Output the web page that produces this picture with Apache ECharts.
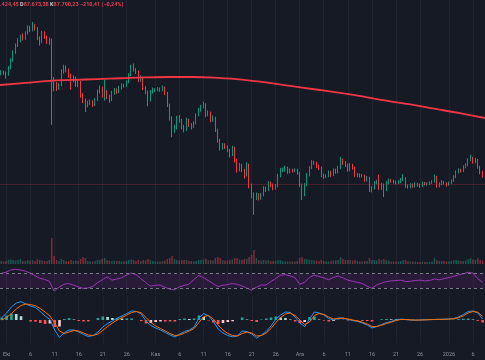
<!DOCTYPE html>
<html><head><meta charset="utf-8">
<script src="https://cdn.jsdelivr.net/npm/echarts@6/dist/echarts.min.js"></script>
<style>html,body{margin:0;padding:0;background:#161a25;}#c{width:485px;height:360px;}</style>
</head><body><div id="c"></div>
<script>
// ---- time axis ----
const tickDays = [0,5,10,15,20,25,31,36,41,46,51,56,61,66,71,76,81,86,92,97]; // days since 1 Oct 2025
const tickLabels = ["Eki","6","11","16","21","26","Kas","6","11","16","21","26","Ara","6","11","16","21","26","2026","6"];
const candleStartDay = -1;   // 30 Sep 00:00
const candleStepDays = 0.5;  // 12h candles
const dailyStartDay = -1;    // daily indicator samples start 30 Sep

// ---- price candles (USD) ----
const candleOpen = [
114000,114400,114100,113800,115300,117200,119100,120800,121900,122900,
122400,123600,125000,124300,125300,124800,122400,121500,123600,122700,
121500,121900,112500,111300,110600,111300,114400,115600,114900,113700,
112500,113000,111300,112000,108900,107800,106600,107100,107300,106600,
107800,109700,110600,108900,109700,108500,107800,109400,110100,109700,
110600,111300,111100,112000,113700,115600,114900,114400,112500,113000,
110600,109700,107800,109700,110100,110100,110300,110100,110600,109400,
106600,103500,100700,101100,103500,103000,101400,100700,103000,101900,
101400,102300,104200,105400,106100,106800,104200,104700,103000,103500,
100700,98300,96400,97100,96700,95900,94800,96400,93600,91200,
92400,91200,90000,92400,87700,85300,84600,85300,84600,85300,
86900,86500,88100,87700,86900,87400,89800,91200,91200,91700,
90700,91200,91000,91200,90500,87700,85300,87700,90000,91700,
92900,92900,92200,91700,90000,89600,89800,90700,90000,91200,
90700,91700,93600,92900,92400,91200,92400,91700,90000,90000,
89800,89800,88800,89300,86500,86900,88100,88400,86900,87700,
86500,88100,88800,88600,88400,88100,88400,88800,89300,87400,
87200,87700,87400,87900,87700,87400,88100,87900,87900,88100,
88400,89600,87400,87900,88400,88100,87700,88100,88600,89600,
90700,91200,91000,91900,92400,93600,94000,93100,93600,91900,
90700];
const candleClose = [
114400,114100,113800,115300,117200,119100,120800,121900,122900,122400,
123600,125000,124300,125300,124800,122400,121500,123600,122700,121500,
121900,112500,111300,110600,111300,114400,115600,114900,113700,112500,
113000,111300,112000,108900,107800,106600,107100,107300,106600,107800,
109700,110600,108900,109700,108500,107800,109400,110100,109700,110600,
111300,111100,112000,113700,115600,114900,114400,112500,113000,110600,
109700,107800,109700,110100,110100,110300,110100,110600,109400,106600,
103500,100700,101100,103500,103000,101400,100700,103000,101900,101400,
102300,104200,105400,106100,106800,104200,104700,103000,103500,100700,
98300,96400,97100,96700,95900,94800,96400,93600,91200,92400,
91200,90000,92400,87700,85300,84600,85300,84600,85300,86900,
86500,88100,87700,86900,87400,89800,91200,91200,91700,90700,
91200,91000,91200,90500,87700,85300,87700,90000,91700,92900,
92900,92200,91700,90000,89600,89800,90700,90000,91200,90700,
91700,93600,92900,92400,91200,92400,91700,90000,90000,89800,
89800,88800,89300,86500,86900,88100,88400,86900,87700,86500,
88100,88800,88600,88400,88100,88400,88800,89300,87400,87200,
87700,87400,87900,87700,87400,88100,87900,87900,88100,88400,
89600,87400,87900,88400,88100,87700,88100,88600,89600,90700,
91200,91000,91900,92400,93600,94000,93100,93600,91900,90700,
89800];
const candleHigh = [
114800,114700,114500,115800,117600,119500,121100,122400,123200,123500,
124000,125400,125300,126200,125700,125000,122800,124100,124000,123000,
122500,122300,113200,112000,111800,115000,116100,115900,115200,114000,
113600,113300,112500,112300,109400,108100,107600,107900,107700,108200,
110200,111200,110900,112500,110100,109000,109900,110600,110500,111100,
111700,111600,112400,114100,116100,116400,115300,114700,113600,113300,
111000,110000,110100,110700,110500,110800,110700,111200,110900,109700,
106900,103900,101900,104000,104200,103300,101900,103600,103300,102300,
102700,104600,105900,106600,107400,107000,105300,105000,104100,103800,
101000,98600,97600,97500,97000,96200,96900,96700,93900,92900,
92700,91500,93000,92700,88000,85900,85900,85700,85800,87400,
87300,88600,88500,88000,87900,90300,91700,91800,92200,92000,
91600,91500,91600,91500,90800,88000,88100,90500,92100,93500,
93400,93200,92500,92000,90400,90200,91100,91000,91600,91500,
92200,94300,93900,93300,92700,92900,92700,92000,90500,90400,
90300,90100,89800,89600,87400,88600,88900,90100,88200,88000,
88600,89200,89100,88900,88700,88800,89300,90200,89500,87800,
88100,88000,88300,88200,88000,88500,88400,88300,88500,88800,
90100,89800,88300,88800,88600,88300,88500,89000,90000,91100,
91600,91500,92300,92800,94000,94800,94300,94100,93800,92200,
91000];
const candleLow = [
113600,113700,112800,113500,115000,116800,118700,120300,121400,121800,
122000,123200,123800,124000,124200,121900,120600,121200,122200,121000,
120800,101900,109800,109900,110200,111000,114000,114300,113000,110200,
111900,110900,110800,108300,107000,104900,106000,106600,106100,106300,
107500,109300,108300,107600,108000,107100,107500,109000,109200,109400,
110200,110700,110800,111700,113400,114500,113900,112000,112100,110100,
109100,106300,107400,109300,109600,109800,109700,109800,108900,106100,
102900,99000,100000,100800,102400,100800,100100,100400,101400,100800,
101100,102000,103900,105000,105800,103700,103900,102500,102600,100200,
97700,95800,96000,96200,95400,94200,94500,93000,90600,90900,
90700,89200,89700,86900,84500,80600,84100,84000,84200,85000,
86000,86200,87200,86400,86500,87100,89500,90700,90800,90300,
90400,90600,90700,90100,87200,84100,85000,87400,89700,91400,
92400,91700,91200,89500,89100,89300,89500,89600,89800,90300,
90400,91400,92400,91900,90800,90900,91300,89600,89500,89400,
89400,88400,88500,86000,85900,86600,87800,86500,86500,84800,
86200,87800,88200,88000,87800,87900,88100,88600,87000,86800,
86900,87000,87100,87300,87000,87200,87600,87500,87700,87900,
88200,87000,87100,87600,87800,87300,87500,87900,88400,89300,
90400,90600,90700,91600,92100,93300,92700,92800,91500,90200,
89400];
const lastPrice = 87790;

// ---- volume (thousand BTC, per 12h candle) ----
const volume = [
3,2.5,3,4,4.5,4,3.5,4,5,3,
3,4,3.5,4,3,4.5,4,3.5,3,3,
4,26,8,4,3,5,4,3,3,4,
3,3.5,3,5,7,6,3,2.5,2.5,3,
4,4,5,6,4,3,3,3.5,3,3,
2.5,2.5,3,4,4.5,4,3,4,3,4,
3.5,5,4,3,2.5,2.5,2.5,3,3.5,5,
6,8,5,4,3.5,4,4,4,3,3,
2.5,3,4,4,4.5,5,3.5,4,3.5,6,
7,6,4,3.5,3.5,4,4.5,6,6,4.5,
4,5,5,7,9,14,6,4,3.5,4,
3.5,4,3,3,3,4,4,3,2.5,2.5,
2.5,2.5,2.5,3,6,7,5,5,4,4,
3.5,3.5,3,4,3,2.5,2.5,3,3.5,3.5,
4,7,5,4,4,4,3.5,4,3,2.5,
2.5,3,3,6,4,4,3.5,5,4,5,
4,3.5,2.5,2.5,2.5,2.5,3,4,4,3,
2.5,2.5,2.5,2,2,2.5,2,2,2,2.5,
6,4,3,3,3,2.5,2.5,3,3.5,4,
3.5,3,3,3.5,5,6,4.5,4,6,4,
3.5];

// ---- long moving average (USD) ----
const maDays   = [-1.25,4,9,14,19,24,29,34,39,44,49,54,59,64,69,74,79,84,89,94,99.5];
const maValues = [111300,111800,112300,112500,112700,112900,113100,113200,113200,113000,112600,111900,111100,110300,109500,108600,107600,106700,105700,104700,103500];

// ---- RSI (daily samples) ----
const rsi = [
69,72,78,80,78,75,70,63,56,53,
48,22,32,40,42,38,33,29,30,34,
44,52,60,51,54,57,64,70,66,55,
45,35,37,38,32,27,25,33,37,40,
52,63,58,50,42,34,37,39,42,40,
36,30,24,32,38,38,47,55,64,66,
62,58,40,45,58,64,61,57,52,58,
62,57,51,48,45,42,35,29,38,43,
47,49,50,51,47,48,50,51,49,50,
54,52,55,58,61,65,68,72,70,55,
45];

// ---- MACD (daily samples) ----
const macdLine = [
250,700,1300,1700,1830,1600,1400,1250,850,400,
50,-1000,-1750,-1250,-1000,-1000,-1200,-1450,-1650,-1550,
-1200,-700,-350,-100,200,400,650,900,850,600,
-100,-550,-800,-1000,-1250,-1500,-1700,-1400,-1150,-1000,
-700,200,650,400,-150,-900,-1300,-1550,-1680,-1600,
-1100,-1150,-1400,-1800,-1500,-1150,-600,100,500,800,
750,300,-300,-650,100,800,700,500,150,0,
200,200,50,-50,-150,-300,-500,-800,-650,-450,
-250,-150,50,80,50,0,-20,0,20,40,
60,70,80,100,150,300,550,850,900,700,
100];
const signalLine = [
0,250,650,1100,1450,1600,1550,1420,1150,800,
400,-300,-1100,-1350,-1200,-1050,-1100,-1300,-1500,-1550,
-1400,-1050,-650,-300,0,250,500,750,850,720,
250,-250,-600,-850,-1100,-1350,-1550,-1500,-1300,-1100,
-850,-250,350,450,100,-500,-1000,-1350,-1550,-1600,
-1350,-1200,-1300,-1600,-1550,-1300,-850,-250,250,600,
700,450,0,-450,-200,450,650,550,300,100,
150,180,100,0,-100,-220,-400,-650,-650,-520,
-350,-220,-50,50,50,20,0,0,10,30,
50,60,70,90,120,220,420,700,850,780,
350];

// ---- build ----
const UP = '#089981', DOWN = '#f23645';
const candleData = candleOpen.map((o, i) => [candleStartDay + i * candleStepDays, o, candleClose[i], candleLow[i], candleHigh[i]]);
const volData = volume.map((v, i) => ({
  value: [candleStartDay + i * candleStepDays, v],
  itemStyle: { color: candleClose[i] >= candleOpen[i] ? 'rgba(8,153,129,0.5)' : 'rgba(242,54,69,0.5)' }
}));
const maData = maDays.map((d, i) => [d, maValues[i]]);
const rsiData = rsi.map((v, i) => [dailyStartDay + i, v]);
const macdData = macdLine.map((v, i) => [dailyStartDay + i, v]);
const sigData = signalLine.map((v, i) => [dailyStartDay + i, v]);
const histData = macdLine.map((v, i) => {
  const h = v - signalLine[i];
  const prev = i > 0 ? macdLine[i - 1] - signalLine[i - 1] : h;
  let c;
  if (h >= 0) c = h >= prev ? '#26a69a' : '#b2dfdb';
  else c = h <= prev ? '#ff5252' : '#ffcdd2';
  return { value: [dailyStartDay + i, h], itemStyle: { color: c } };
});

const X_MIN = -1.246, X_MAX = 99.5;
const gridColor = '#1f2331';
function xAx(gi, labels) {
  return {
    type: 'value', gridIndex: gi, min: X_MIN, max: X_MAX,
    axisLine: { show: false },
    axisTick: { show: false, customValues: tickDays },
    splitLine: { show: true, lineStyle: { color: gridColor, width: 1 } },
    axisLabel: labels ? {
      show: true, customValues: tickDays, color: '#8c8f99', fontSize: 5.5, fontFamily: 'Roboto', margin: 9,
      formatter: v => { const k = tickDays.indexOf(Math.round(v)); return k >= 0 ? tickLabels[k] : ''; }
    } : { show: false }
  };
}
function yAx(gi, min, max) {
  return { type: 'value', gridIndex: gi, min: min, max: max, show: true,
    axisLine: { show: false }, axisTick: { show: false }, axisLabel: { show: false }, splitLine: { show: false } };
}

const chart = echarts.init(document.getElementById('c'), null, { renderer: 'canvas' });
chart.setOption({
  animation: false,
  backgroundColor: '#161a25',
  title: {
    left: 0, top: 2, padding: 0,
    text: '{v|.424,45} {l|D}{v|87.673,38} {l|K}{v|87.790,23} {v|−210,41 (−0,24%)}',
    textStyle: { fontSize: 5.5, fontFamily: 'Roboto', color: '#e0414e',
      rich: { v: { color: '#e0414e', fontSize: 5.5, fontFamily: 'Roboto' },
              l: { color: '#c9ccd4', fontSize: 5.5, fontFamily: 'Roboto' } } }
  },
  grid: [
    { left: 0, right: 0, top: 0, height: 265 },
    { left: 0, right: 0, top: 237, height: 27 },
    { left: 0, right: 0, top: 266, height: 28 },
    { left: 0, right: 0, top: 296, height: 47 }
  ],
  xAxis: [xAx(0, false), { ...xAx(1, false), splitLine: { show: false } }, xAx(2, false), xAx(3, true)],
  yAxis: [yAx(0, 68750, 131400), yAx(1, 0, 27), yAx(2, 14, 88.67), yAx(3, -2300, 2400)],
  series: [
    { type: 'candlestick', xAxisIndex: 0, yAxisIndex: 0, data: candleData,
      dimensions: ['day', 'open', 'close', 'lowest', 'highest'],
      encode: { x: 'day', y: ['open', 'close', 'lowest', 'highest'] },
      barWidth: 1,
      itemStyle: { color: UP, color0: DOWN, borderColor: UP, borderColor0: DOWN, borderWidth: 1 },
      markLine: { silent: true, symbol: ['none', 'none'], label: { show: false },
        lineStyle: { color: 'rgba(242,54,69,0.22)', type: 'solid', width: 1 }, data: [{ yAxis: lastPrice }] } },
    { type: 'line', xAxisIndex: 0, yAxisIndex: 0, data: maData, smooth: 0.4, showSymbol: false,
      lineStyle: { color: '#f23645', width: 1.8 } },
    { type: 'bar', xAxisIndex: 1, yAxisIndex: 1, data: volData, barWidth: 1.5 },
    { type: 'line', xAxisIndex: 2, yAxisIndex: 2, data: rsiData, showSymbol: false,
      lineStyle: { color: '#9c36b5', width: 1 },
      markArea: { silent: true, itemStyle: { color: 'rgba(156,39,176,0.13)' }, data: [[{ yAxis: 70 }, { yAxis: 30 }]] },
      markLine: { silent: true, symbol: ['none', 'none'], label: { show: false },
        lineStyle: { color: '#787b86', type: [3, 3], width: 1 }, data: [{ yAxis: 70 }, { yAxis: 30 }] } },
    { type: 'bar', xAxisIndex: 3, yAxisIndex: 3, data: histData, barWidth: 2.6 },
    { type: 'line', xAxisIndex: 3, yAxisIndex: 3, data: macdData, showSymbol: false,
      lineStyle: { color: '#2196f3', width: 1 } },
    { type: 'line', xAxisIndex: 3, yAxisIndex: 3, data: sigData, showSymbol: false,
      lineStyle: { color: '#ff6d00', width: 1 } }
  ]
});
</script></body></html>
